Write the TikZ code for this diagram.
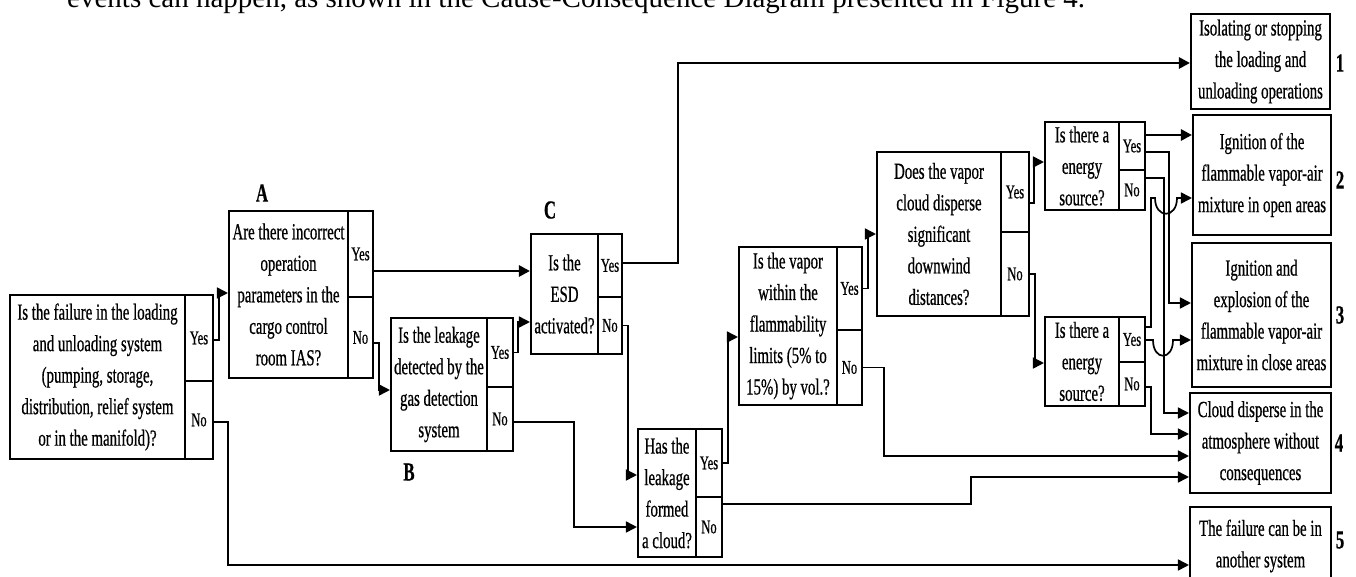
\documentclass[tikz,border=0pt]{standalone}
\usepackage{fontspec}
\setmainfont{Liberation Serif}
\newfontfamily\condfont{Liberation Serif}[FakeStretch=0.645,FakeBold=0.6]
\usetikzlibrary{fit,arrows.meta}
\newcommand\qfont{\condfont\fontsize{23}{31.5}\selectfont}
\newcommand\ynfont{\condfont\fontsize{19.5}{22}\selectfont}
\newcommand\labfont{\condfont\bfseries\fontsize{26}{26}\selectfont}
\tikzset{
  cell/.style={draw, line width=2.1pt, inner sep=0pt},
  qtext/.style={align=center, font=\qfont, inner sep=0pt},
  yn/.style={font=\ynfont, inner sep=0pt},
  lab/.style={font=\labfont, inner sep=0pt},
  conn/.style={line width=1.7pt, -{Triangle[length=11pt,width=11pt]}},
  heavy/.style={line width=2.7pt}
}
% name, x1, y1, xdiv, x2, ydiv, y2, text
\newcommand\qbox[8]{%
  \node[cell, fit={(#2,#3) (#4,#7)}] (#1) {};
  \node[cell, fit={(#4,#3) (#5,#6)}] (#1y) {};
  \node[cell, fit={(#4,#6) (#5,#7)}] (#1n) {};
  \node[qtext] (#1t) at (#1.center) {#8};
  \node[yn] (#1yt) at (#1y.center) {Yes};
  \node[yn] (#1nt) at (#1n.center) {No};
}
\newcommand\leafbox[6]{% name, x1, y1, x2, y2, text
  \node[cell, fit={(#2,#3) (#4,#5)}] (#1) {};
  \node[qtext] (#1t) at (#1.center) {#6};
}
\begin{document}
\begin{tikzpicture}[x=1pt,y=-1pt]
\useasboundingbox (0,0) rectangle (1356,577);
\clip (0,0) rectangle (1356,577);
\node[anchor=base west, inner sep=0pt, font=\fontsize{29}{29}\selectfont] (top) at (67,8)
  {events can happen, as shown in the Cause-Consequence Diagram presented in Figure 4.};

\qbox{Q1}{10}{295}{185}{213}{381}{459}{Is the failure in the loading\\and unloading system\\(pumping, storage,\\distribution, relief system\\or in the manifold)?}
\qbox{A}{229}{211}{348}{373}{297}{378}{Are there incorrect\\operation\\parameters in the\\cargo control\\room IAS?}
\qbox{B}{391}{318}{487}{513}{387}{451}{Is the leakage\\detected by the\\gas detection\\system}
\qbox{C}{531}{234}{598}{622}{297}{354}{Is the\\ESD\\activated?}
\qbox{D}{638}{429}{696}{722}{497}{557}{Has the\\leakage\\formed\\a cloud?}
\qbox{E}{739}{247}{837}{862}{330}{405}{Is the vapor\\within the\\flammability\\limits (5\% to\\15\%) by vol.?}
\qbox{F}{877}{152}{1001}{1029}{232}{316}{Does the vapor\\cloud disperse\\significant\\downwind\\distances?}
\qbox{G}{1045}{122}{1119}{1145}{170}{210}{Is there a\\energy\\source?}
\qbox{H}{1045}{317}{1119}{1145}{362}{406}{Is there a\\energy\\source?}

\leafbox{O1}{1191}{14}{1330}{109}{Isolating or stopping\\the loading and\\unloading operations}
\leafbox{O2}{1193}{115}{1331}{235}{Ignition of the\\flammable vapor-air\\mixture in open areas}
\leafbox{O3}{1192}{243}{1331}{387}{Ignition and\\explosion of the\\flammable vapor-air\\mixture in close areas}
\leafbox{O4}{1190}{393}{1331}{493}{Cloud disperse in the\\atmosphere without\\consequences}
\node[cell, fit={(1190,507) (1331,610)}] (O5) {};
\node[qtext] (O5t) at (1260.5,546) {The failure can be in\\another system};

\node[lab] (LA) at (262,193) {A};
\node[lab] (LB) at (409,472) {B};
\node[lab] (LC) at (550,210) {C};
\node[lab] (N1) at (1340,63) {1};
\node[lab] (N2) at (1340,180) {2};
\node[lab] (N3) at (1340,315) {3};
\node[lab] (N4) at (1339,443) {4};
\node[lab] (N5) at (1340,540) {5};

\draw[conn] (Q1y.east |- 0,340) -- ++(5,0) |- (A.west |- 0,293);
\draw[conn] (Q1n.east |- 0,422) -- ++(14,0) |- (O5.west |- 0,565);
\draw[conn,heavy] (Ay.east |- 0,271) -- (C.west |- 0,271);
\draw[conn] (An.east |- 0,343) -- ++(5,0) |- (B.west |- 0,390);
\draw[conn] (By.east) -- ++(4,0) |- (C.west |- 0,322);
\draw[conn] (Bn.east |- 0,422) -- ++(60,0) |- (D.west |- 0,527);
\draw[conn,heavy] (Cy.east |- 0,263) -- ++(55,0) |- (O1.west |- 0,63);
\draw[conn] (Cn.east) -- ++(5,0) |- (D.west |- 0,475);
\draw[conn] (Dy.east) -- ++(5,0) |- (E.west |- 0,337);
\draw[conn] (Dn.east |- 0,504) -- ++(248,0) |- (O4.west |- 0,477);
\draw[conn] (Ey.east) -- ++(5,0) |- (F.west);
\draw[conn] (En.east) -- ++(21,0) |- (O4.west |- 0,456);
\draw[conn] (Fy.east |- 0,203) -- ++(4,0) |- (G.west |- 0,162);
\draw[conn] (Fn.east) -- ++(5,0) |- (H.west |- 0,363);
\draw[conn,heavy] (Gy.east |- 0,135) -- (O2.west |- 0,135);
\draw[conn] (Gy.east |- 0,152) -- ++(23,0) |- (O3.west |- 0,303);
\draw[conn] (Gn.east |- 0,178) -- ++(18,0) |- (O4.west |- 0,413);
\draw[conn] (Hy.east |- 0,327) -- (1151,327) -- (1151,198) -- (1155,198)
  .. controls (1155,219) and (1177,219) .. (1177,198) -- (O2.west |- 0,198);
\draw[conn] (Hy.east |- 0,340) -- (1153,340)
  .. controls (1153,361) and (1173,361) .. (1173,340) -- (O3.west |- 0,340);
\draw[conn] (Hn.east |- 0,387) -- ++(5,0) |- (O4.west |- 0,434);
\end{tikzpicture}
\end{document}
